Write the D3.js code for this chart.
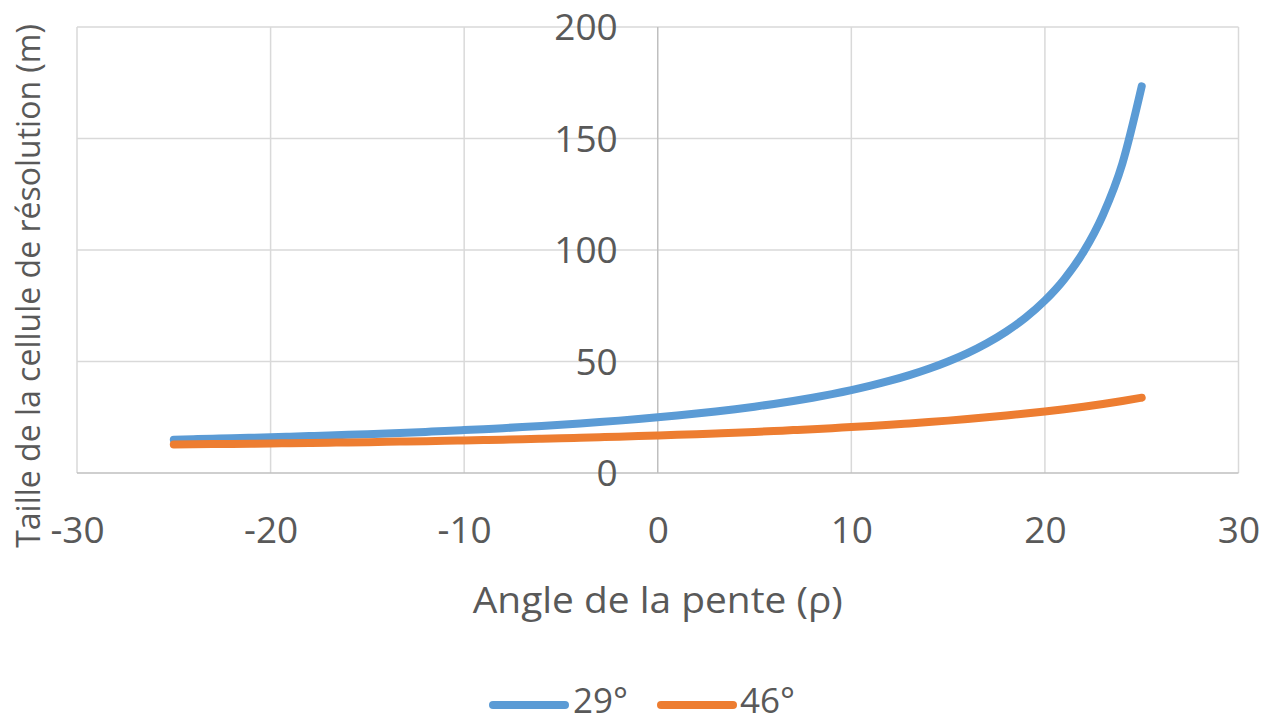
<!DOCTYPE html>
<html><head><meta charset="utf-8">
<script src="https://cdn.jsdelivr.net/npm/d3@7"></script>
<style>html,body{margin:0;padding:0;background:#fff;}</style>
</head><body>
<svg id="chart" width="1272" height="724"></svg>
<script>
const slopeAngles = [-25,-24,-23,-22,-21,-20,-19,-18,-17,-16,-15,-14,-13,-12,-11,-10,-9,-8,-7,-6,-5,-4,-3,-2,-1,0,1,2,3,4,5,6,7,8,9,10,11,12,13,14,15,16,17,18,19,20,21,22,23,24,25];
const series29 = [14.96,15.15,15.36,15.57,15.80,16.03,16.28,16.54,16.82,17.11,17.42,17.74,18.08,18.44,18.82,19.23,19.65,20.11,20.59,21.10,21.64,22.22,22.83,23.49,24.20,24.96,25.77,26.65,27.60,28.63,29.75,30.97,32.30,33.76,35.38,37.16,39.16,41.38,43.90,46.75,50.02,53.78,58.20,63.42,69.70,77.37,86.93,99.26,115.79,138.76,173.35];
const series46 = [12.80,12.88,12.96,13.05,13.14,13.25,13.35,13.46,13.58,13.70,13.83,13.97,14.12,14.27,14.43,14.60,14.77,14.96,15.15,15.36,15.57,15.80,16.03,16.28,16.54,16.82,17.11,17.42,17.74,18.08,18.44,18.82,19.23,19.65,20.11,20.59,21.10,21.64,22.22,22.83,23.49,24.20,24.96,25.77,26.65,27.60,28.63,29.75,30.97,32.30,33.76];
const seriesNames = ["29°","46°"];
const seriesColors = ["#5B9BD5","#ED7D31"];
const xTicks = [-30,-20,-10,0,10,20,30];
const yTicks = [0,50,100,150,200];
const xTitle = "Angle de la pente (ρ)";
const yTitle = "Taille de la cellule de résolution (m)";

const svg = d3.select("#chart");
const font = "'Open Sans', 'Noto Sans', sans-serif";
const textColor = "#595959";
const fs = 37;
const L = 77, R = 1238.5, T = 27, B = 473;
const x = d3.scaleLinear().domain([-30,30]).range([L,R]);
const y = d3.scaleLinear().domain([0,200]).range([B,T]);

// gridlines
const g = svg.append("g");
g.selectAll(".vg").data(xTicks.filter(d=>d!==0)).enter().append("line")
  .attr("x1",d=>x(d)).attr("x2",d=>x(d)).attr("y1",T).attr("y2",B)
  .attr("stroke","#D9D9D9").attr("stroke-width",1.5);
g.selectAll(".hg").data(yTicks.filter(d=>d!==0)).enter().append("line")
  .attr("x1",L).attr("x2",R).attr("y1",d=>y(d)).attr("y2",d=>y(d))
  .attr("stroke","#D9D9D9").attr("stroke-width",1.5);
// axis lines
g.append("line").attr("x1",x(0)).attr("x2",x(0)).attr("y1",T).attr("y2",B)
  .attr("stroke","#BFBFBF").attr("stroke-width",1.5);
g.append("line").attr("x1",L).attr("x2",R).attr("y1",y(0)).attr("y2",y(0))
  .attr("stroke","#BFBFBF").attr("stroke-width",1.5);

// axes
const fmt = d => String(d);
const xa = svg.append("g").attr("transform",`translate(0,${B})`)
  .call(d3.axisBottom(x).tickValues(xTicks).tickSize(0).tickFormat(fmt));
xa.select(".domain").remove();
xa.selectAll("text").attr("y",57).attr("dy","0.35em")
  .attr("font-family",font).attr("font-size",fs).attr("fill",textColor);

const ya = svg.append("g").attr("transform",`translate(${x(0)},0)`)
  .call(d3.axisLeft(y).tickValues(yTicks).tickSize(0).tickFormat(fmt));
ya.select(".domain").remove();
ya.selectAll("text").attr("x",-40).attr("dy","0.35em")
  .attr("font-family",font).attr("font-size",fs).attr("fill",textColor);

// lines
const line = d3.line().x((d,i)=>x(slopeAngles[i])).y(d=>y(d)).curve(d3.curveMonotoneX);
[series29, series46].forEach((s,k)=>{
  svg.append("path").datum(s).attr("d",line)
    .attr("fill","none").attr("stroke",seriesColors[k]).attr("stroke-width",8)
    .attr("stroke-linecap","round").attr("stroke-linejoin","round");
});

// titles
svg.append("text").attr("x",x(0)).attr("y",600).attr("dy","0.35em")
  .attr("text-anchor","middle").attr("font-family",font).attr("font-size",fs)
  .attr("textLength",370).attr("lengthAdjust","spacingAndGlyphs")
  .attr("fill",textColor).text(xTitle);
svg.append("text").attr("transform","translate(29,286) rotate(-90)").attr("dy","0.35em")
  .attr("text-anchor","middle").attr("font-family",font).attr("font-size",32)
  .attr("fill",textColor).text(yTitle);

// legend
const legendItems = [{sx:489,ex:569,tx:573},{sx:657,ex:737,tx:740}];
seriesNames.forEach((n,k)=>{
  const it = legendItems[k];
  svg.append("line").attr("x1",it.sx+4).attr("x2",it.ex-4).attr("y1",705).attr("y2",705)
    .attr("stroke",seriesColors[k]).attr("stroke-width",8).attr("stroke-linecap","round");
  svg.append("text").attr("x",it.tx).attr("y",701).attr("dy","0.35em")
    .attr("font-family",font).attr("font-size",35).attr("fill",textColor).text(n);
});
</script>
</body></html>
